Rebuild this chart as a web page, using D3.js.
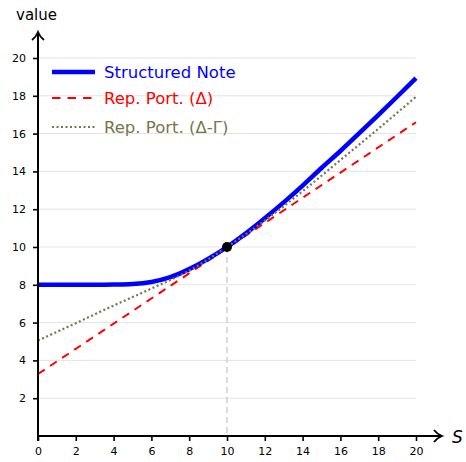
<!DOCTYPE html>
<html>
<head>
<meta charset="utf-8">
<script src="https://cdn.jsdelivr.net/npm/d3@7"></script>
<style>
  body { margin: 0; background: #fff; }
  text { font-family: 'DejaVu Sans', sans-serif; }
</style>
</head>
<body>
<script>
const width = 466,
    height = 462;

// values
const xTicks = [0, 2, 4, 6, 8, 10, 12, 14, 16, 18, 20];
const yTicks = [2, 4, 6, 8, 10, 12, 14, 16, 18, 20];

const noteS = [0, 1, 2, 3, 4, 5, 6, 7, 8, 9, 10, 11, 12, 13, 14, 15, 16, 17, 18, 19, 20];
const noteV = [8, 8, 8, 8, 8.01, 8.04, 8.15, 8.4, 8.83, 9.37, 10, 10.72, 11.52, 12.36, 13.25, 14.18, 15.08, 16.02, 16.98, 17.95, 18.93];

const deltaS = [0, 20];
const deltaV = [3.28, 16.6];

const gammaS = [0, 2, 4, 6, 8, 10, 12, 14, 16, 18, 20];
const gammaV = [5.05, 5.97, 6.9, 7.8, 8.75, 10, 11.4, 12.95, 14.6, 16.25, 17.95];

const spotS = 10, spotV = 10;

const legendNames = ['Structured Note', 'Rep. Port. (\u0394)', 'Rep. Port. (\u0394-\u0393)'];
const colors = ['#0000ff', '#ff0000', '#76764a'];

const x = d3.scaleLinear().domain([0, 20]).range([38, 416]);
const y = d3.scaleLinear().domain([0, 20]).range([436, 58]);

const svg = d3.select('body')
    .append('svg')
    .attr('width', width)
    .attr('height', height);

// grid
svg.append('g')
    .selectAll('line')
    .data(yTicks)
    .enter().append('line')
    .attr('x1', x(0))
    .attr('x2', x(20))
    .attr('y1', d => y(d))
    .attr('y2', d => y(d))
    .attr('stroke', '#e3e3e3')
    .attr('stroke-width', 1);

// vertical dashed helper at spot
svg.append('line')
    .attr('x1', x(spotS))
    .attr('x2', x(spotS))
    .attr('y1', y(spotV))
    .attr('y2', y(0))
    .attr('stroke', '#c8c8c8')
    .attr('stroke-width', 1.3)
    .attr('stroke-dasharray', '6,4');

const line = d3.line()
    .x(d => x(d[0]))
    .y(d => y(d[1]))
    .curve(d3.curveMonotoneX);

svg.append('path')
    .datum(deltaS.map((s, i) => [s, deltaV[i]]))
    .attr('d', line)
    .attr('fill', 'none')
    .attr('stroke', colors[1])
    .attr('stroke-width', 2)
    .attr('stroke-dasharray', '8,6.5');

svg.append('path')
    .datum(noteS.map((s, i) => [s, noteV[i]]))
    .attr('d', line)
    .attr('fill', 'none')
    .attr('stroke', colors[0])
    .attr('stroke-width', 4.5);

svg.append('path')
    .datum(gammaS.map((s, i) => [s, gammaV[i]]))
    .attr('d', line)
    .attr('fill', 'none')
    .attr('stroke', colors[2])
    .attr('stroke-width', 2.2)
    .attr('stroke-dasharray', '2,2.5');

svg.append('circle')
    .attr('cx', x(spotS))
    .attr('cy', y(spotV))
    .attr('r', 5)
    .attr('fill', '#000');

// axes
const xAxis = svg.append('g')
    .attr('transform', 'translate(0,' + y(0) + ')')
    .call(d3.axisBottom(x).tickValues(xTicks).tickSize(5).tickPadding(6));
const yAxis = svg.append('g')
    .attr('transform', 'translate(' + x(0) + ',0)')
    .call(d3.axisLeft(y).tickValues(yTicks).tickSize(5).tickPadding(7));

[xAxis, yAxis].forEach(function (g) {
    g.select('.domain').remove();
    g.selectAll('.tick line').attr('stroke', '#000').attr('stroke-width', 1.6);
    g.selectAll('.tick text')
        .attr('fill', '#000')
        .style('font-size', '11px')
        .style('font-family', "'DejaVu Sans', sans-serif");
});

svg.append('line')
    .attr('x1', x(0)).attr('x2', 441)
    .attr('y1', y(0)).attr('y2', y(0))
    .attr('stroke', '#000').attr('stroke-width', 2);
svg.append('line')
    .attr('x1', x(0)).attr('x2', x(0))
    .attr('y1', y(0) + 5).attr('y2', 33)
    .attr('stroke', '#000').attr('stroke-width', 2);

// arrow heads
svg.append('path')
    .attr('d', 'M' + 434 + ',' + (y(0) - 6) + ' Q437,' + (y(0) - 2) + ' 442,' + y(0) +
        ' Q437,' + (y(0) + 2) + ' 434,' + (y(0) + 6))
    .attr('fill', 'none').attr('stroke', '#000').attr('stroke-width', 1.8);
svg.append('path')
    .attr('d', 'M' + (x(0) - 6) + ',40 Q' + (x(0) - 2) + ',37 ' + x(0) + ',32 Q' + (x(0) + 2) + ',37 ' + (x(0) + 6) + ',40')
    .attr('fill', 'none').attr('stroke', '#000').attr('stroke-width', 1.8);

svg.append('text')
    .attr('x', 16).attr('y', 20)
    .style('font-size', '15px')
    .text('value');
svg.append('text')
    .attr('x', 452).attr('y', 443)
    .style('font-size', '17px')
    .style('font-style', 'italic')
    .text('S');

// legend
const legend = svg.append('g');
const legendY = [72, 98, 127];
const legendStyles = [
    {w: 4.5, dash: null},
    {w: 2, dash: '8.5,7'},
    {w: 2.2, dash: '2,2.5'}
];
legendNames.forEach(function (name, i) {
    legend.append('line')
        .attr('x1', 52).attr('x2', 95)
        .attr('y1', legendY[i]).attr('y2', legendY[i])
        .attr('stroke', colors[i])
        .attr('stroke-width', legendStyles[i].w)
        .attr('stroke-dasharray', legendStyles[i].dash);
    legend.append('text')
        .attr('x', 104).attr('y', legendY[i] + 6)
        .attr('fill', colors[i])
        .style('font-size', '16.5px')
        .text(name);
});
</script>
</body>
</html>
